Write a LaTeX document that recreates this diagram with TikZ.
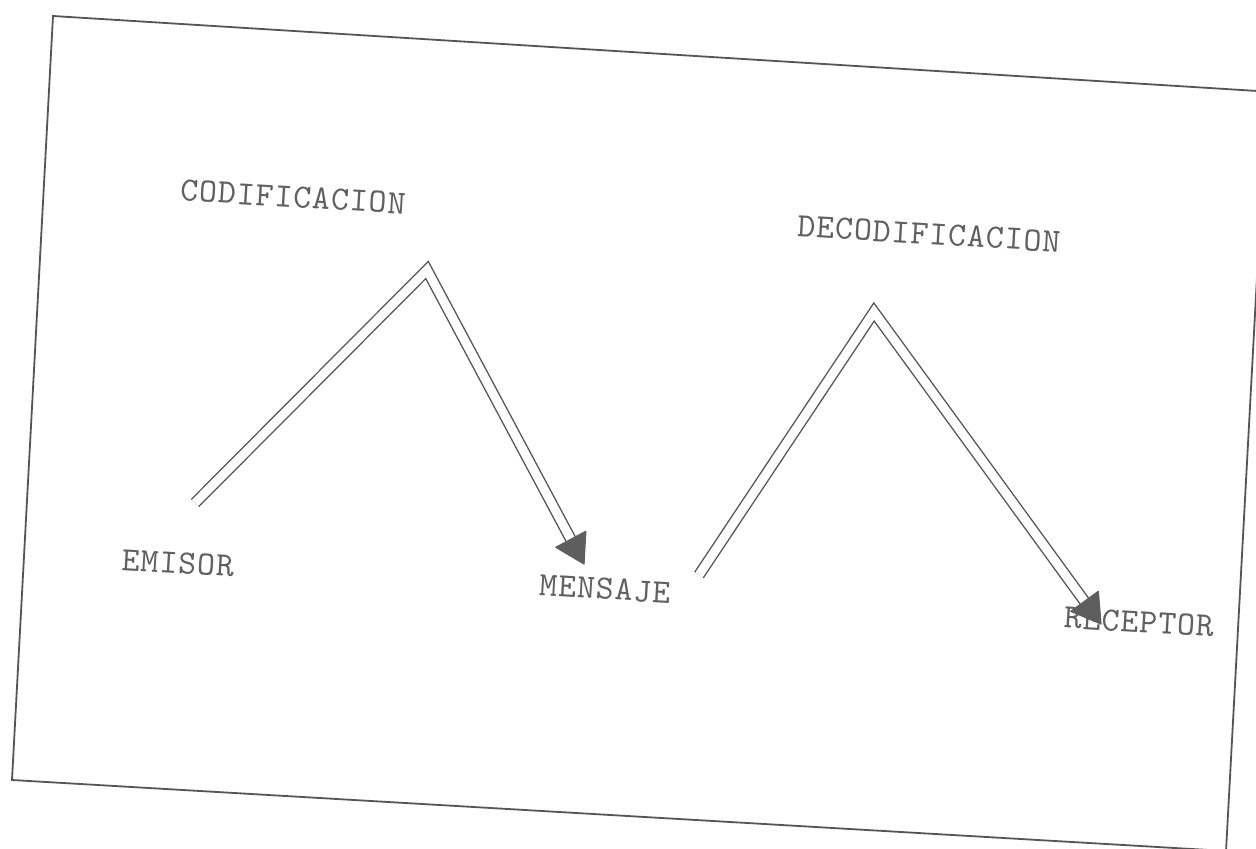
\documentclass[tikz,border=0pt]{standalone}
\usepackage{fontspec}
\newfontfamily\twfont{lmmono10-regular.otf}[LetterSpace=3]
\usetikzlibrary{calc}
\definecolor{framegray}{HTML}{555555}
\definecolor{linegray}{HTML}{555555}
\definecolor{textgray}{HTML}{606060}
\definecolor{tipgray}{HTML}{5E5E5E}
\begin{document}
\begin{tikzpicture}[x=0.5pt,y=-0.5pt,
  frameline/.style={draw=framegray, line width=0.9pt},
  dbl/.style={draw=linegray, line width=0.7pt, double=white, double distance=4.4pt, line join=miter},
  tiphead/.style={fill=tipgray, draw=tipgray, line width=0.6pt, line join=round},
  lbl/.style={text=textgray, font=\twfont\fontsize{17pt}{20pt}\selectfont, inner sep=0pt, rotate=-3.4}]
\useasboundingbox (0,0) rectangle (1256,849);
\fill[white] (0,0) rectangle (1256,849);
\begin{scope}
\clip (0,0) rectangle (1256,849);
\draw[frameline] (53,16) -- (1267,91.6) -- (1226,851) -- (12,780) -- cycle;
\end{scope}
% labels
\node[lbl] (cod) at (293,197) {CODIFICACION};
\node[lbl] (dec) at (929,234) {DECODIFICACION};
\node[lbl] (emi) at (178,563) {EMISOR};
\node[lbl] (men) at (605,589) {MENSAJE};
\node[lbl] (rec) at (1139,622) {RECEPTOR};
% first connector
\coordinate (e1) at (195,503);
\coordinate (c1) at (427,270);
\coordinate (t1) at (584,564);
\coordinate (b1) at ($(t1)!14pt!(c1)$);
\coordinate (m1) at ($(t1)!12pt!(c1)$);
\draw[dbl] (e1) -- (c1) -- (m1);
\fill[tiphead] (t1) -- ($(b1)!8.5pt!90:(t1)$) -- ($(b1)!8.5pt!-90:(t1)$) -- cycle;
% second connector
\coordinate (e2) at (699,575);
\coordinate (c2) at (874,312);
\coordinate (t2) at (1101,624);
\coordinate (b2) at ($(t2)!14pt!(c2)$);
\coordinate (m2) at ($(t2)!12pt!(c2)$);
\draw[dbl] (e2) -- (c2) -- (m2);
\fill[tiphead] (t2) -- ($(b2)!8.5pt!90:(t2)$) -- ($(b2)!8.5pt!-90:(t2)$) -- cycle;
\end{tikzpicture}
\end{document}
